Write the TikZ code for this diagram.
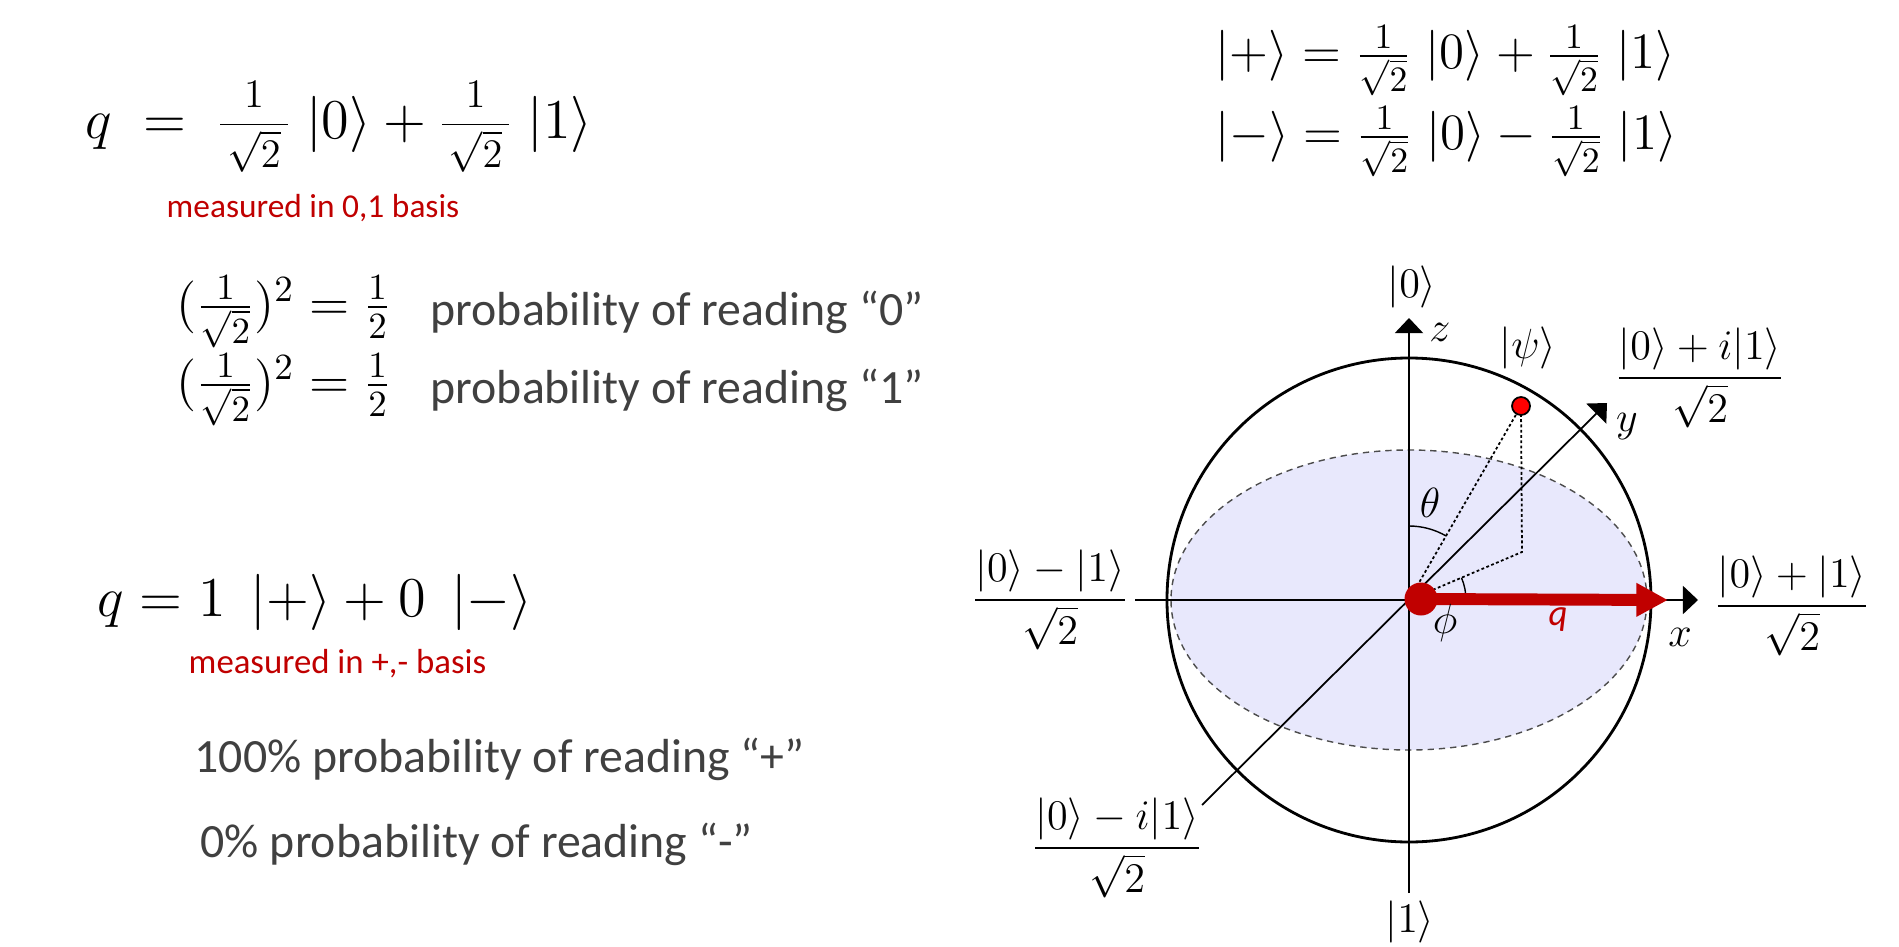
\RequirePackage{fix-cm}
\documentclass[tikz,border=0pt]{standalone}
\usepackage{amsmath}
\usepackage{fontspec}
\newfontfamily\slidefont{Carlito}
\usetikzlibrary{arrows.meta}
\definecolor{slidered}{RGB}{192,0,0}
\definecolor{slidegray}{RGB}{64,64,64}
\definecolor{eqplane}{RGB}{232,232,252}
% slide-style fraction: displaystyle, shrunk
\newcommand{\mfrac}[2]{\raisebox{0.07em}{\scalebox{0.72}{$\dfrac{#1}{\mkern3mu#2\mkern3mu}$}}}
\begin{document}
\begin{tikzpicture}[
  bigeq/.style={font=\fontsize{16}{20}\selectfont, anchor=west, inner sep=0pt},
  topeq/.style={font=\fontsize{14.5}{18}\selectfont, anchor=west, inner sep=0pt},
  sqeq/.style={font=\fontsize{15}{18}\selectfont, anchor=west, inner sep=0pt},
  note/.style={font=\slidefont\fontsize{9.5}{11}\selectfont, text=slidered, anchor=west, inner sep=0pt},
  prob/.style={font=\slidefont\fontsize{13.6}{16}\selectfont, text=slidegray, anchor=west, inner sep=0pt},
  lbl/.style={font=\fontsize{12}{14}\selectfont, inner sep=0pt},
  blochaxis/.style={line width=0.5pt, -{Triangle[length=4.3pt,width=8pt]}},
  guide/.style={line width=0.5pt, dash pattern=on 0.8pt off 0.7pt},
  qvec/.style={slidered, line width=3.4pt, -{Triangle[length=9pt,width=9pt]}}]
\useasboundingbox (0,0) rectangle (18.99,9.46);
% 0,1 basis
\node[bigeq] (qzo) at (0.85,8.19)
  {$q \;=\; \mfrac{1}{\sqrt{2}}\;|0\rangle + \mfrac{1}{\sqrt{2}}\;|1\rangle$};
\node[note] (mzo) at (1.66,7.38) {measured in 0,1 basis};
\foreach \y/\d/\nm in {6.34/0/A,5.56/1/B}{
  \node[sqeq] (sq\nm) at (1.76,\y) {$(\frac{1}{\sqrt{2}})^2 = \frac{1}{2}$};
  \node[prob] (rd\nm) at (4.30,\y) {probability of reading “\d”};
}
% +,- basis
\node[bigeq] (qpm) at (0.97,3.44) {$q = 1\;\,|{+}\rangle + 0\;\,|{-}\rangle$};
\node[note, font=\slidefont\fontsize{9.9}{11}\selectfont] (mpm) at (1.88,2.82) {measured in +,- basis};
\node[prob] (rdP) at (1.94,1.87) {100\% probability of reading “+”};
\node[prob] (rdM) at (2.00,1.02) {0\% probability of reading “-”};
% basis states
\node[topeq] (kplus) at (12.15,8.85)
  {$|{+}\rangle = \frac{1}{\sqrt{2}}\;|0\rangle + \frac{1}{\sqrt{2}}\;|1\rangle$};
\node[topeq] (kminus) at (12.15,8.04)
  {$|{-}\rangle = \frac{1}{\sqrt{2}}\;|0\rangle - \frac{1}{\sqrt{2}}\;|1\rangle$};
% bloch sphere
\begin{scope}[shift={(14.09,3.46)}]
\coordinate (O) at (0,0);
\fill[eqplane] (O) ellipse [x radius=2.38, y radius=1.50];
\draw[black!70, line width=0.4pt, dash pattern=on 1.8pt off 1.4pt]
  (O) ellipse [x radius=2.38, y radius=1.50];
\draw[line width=0.8pt] (O) circle [radius=2.42];
\coordinate (zbot) at (0,-2.93);  \coordinate (ztop) at (0,2.82);
\coordinate (xl) at (-2.74,0);    \coordinate (xr) at (2.89,0);
\coordinate (yl) at (-2.07,-2.05); \coordinate (yr) at (1.98,1.97);
\coordinate (psi) at (1.12,1.94); \coordinate (psip) at (1.13,0.48);
\coordinate (qtip) at (2.59,0);
\draw[blochaxis] (zbot) -- (ztop);
\draw[blochaxis] (xl) -- (xr);
\draw[blochaxis] (yl) -- (yr);
\draw[guide] (O) -- (psi) -- (psip) -- (O);
\draw[line width=0.4pt] (0,0.74) arc [start angle=90, end angle=60, radius=0.74];
\draw[line width=0.4pt] (0.57,0) arc [start angle=0, end angle=23, radius=0.57];
\node[circle, fill=red, draw=black, line width=0.5pt, minimum size=0.18cm, inner sep=0pt] (psidot) at (psi) {};
\node[circle, fill=slidered, minimum size=0.33cm, inner sep=0pt] (qdot) at (0.12,0.01) {};
\draw[qvec] (qdot.center) -- (qtip);
\node[font=\slidefont\itshape\fontsize{10.5}{12}\selectfont, text=slidered] (qlbl) at (1.49,-0.20) {q};
% labels
\node[lbl] (ket0) at (0.03,3.13) {$|0\rangle$};
\node[lbl] (ket1) at (0.01,-3.22) {$|1\rangle$};
\node[lbl] (zlbl) at (0.31,2.68) {$z$};
\node[lbl] (ylbl) at (2.18,1.73) {$y$};
\node[lbl] (xlbl) at (2.71,-0.37) {$x$};
\node[lbl] (thlbl) at (0.21,0.97) {$\theta$};
\node[lbl] (phlbl) at (0.36,-0.23) {$\phi$};
\node[lbl] (psilbl) at (1.19,2.52) {$|\psi\rangle$};
\node[lbl] (kpi) at (2.91,2.22) {$\dfrac{|0\rangle + i|1\rangle}{\sqrt{2}}$};
\node[lbl] (kp) at (3.83,-0.06) {$\dfrac{|0\rangle + |1\rangle}{\sqrt{2}}$};
\node[lbl] (km) at (-3.59,0) {$\dfrac{|0\rangle - |1\rangle}{\sqrt{2}}$};
\node[lbl] (kmi) at (-2.92,-2.48) {$\dfrac{|0\rangle - i|1\rangle}{\sqrt{2}}$};
\end{scope}
\end{tikzpicture}
\end{document}
